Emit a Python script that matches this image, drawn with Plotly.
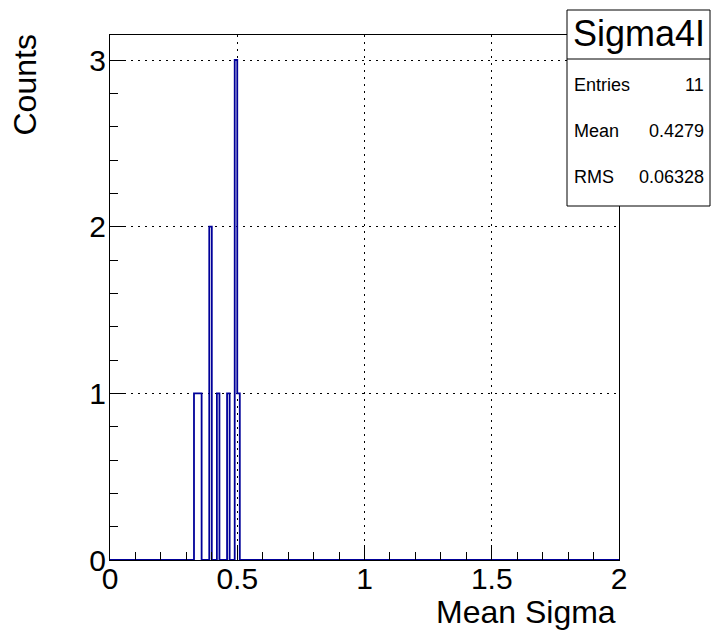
import numpy as np
import plotly.graph_objects as go

# ---- data ----
n_bins = 200
x_min, x_max = 0.0, 2.0
filled_bin_low = [0.33, 0.34, 0.35, 0.39, 0.42, 0.46, 0.49, 0.50]
filled_counts = [1, 1, 1, 2, 1, 1, 3, 1]
x_tickvals = [0, 0.5, 1, 1.5, 2]
x_ticktext = ["0", "0.5", "1", "1.5", "2"]
y_tickvals = [0, 1, 2, 3]
y_ticktext = ["0", "1", "2", "3"]
stats_title = "Sigma4I"
stats_names = ["Entries", "Mean", "RMS"]
stats_values = ["11", "0.4279", "0.06328"]

# build histogram arrays
width = (x_max - x_min) / n_bins
edges = np.round(x_min + np.arange(n_bins + 1) * width, 4)
counts = np.zeros(n_bins)
for lo, c in zip(filled_bin_low, filled_counts):
    counts[int(round((lo - x_min) / width))] = c
step_y = np.append(counts, 0)

FONT = "Liberation Sans, Arial, Helvetica, sans-serif"

# pixel -> paper helpers (plot area 110..619 x, 35..560 y)
L, R, T, B = 110, 619, 35, 560
def px(x):
    return (x - L) / (R - L)
def py(y):
    return (B - y) / (B - T)

fig = go.Figure()
fig.add_trace(go.Scatter(
    x=edges, y=step_y, mode="lines", line=dict(shape="hv", color="#000099", width=1.8),
    hoverinfo="skip", showlegend=False,
))

grid_dash = "2px,5px"
fig.update_xaxes(
    range=[x_min, x_max], tickvals=x_tickvals, ticktext=x_ticktext,
    ticks="inside", ticklen=15, tickwidth=1, tickcolor="black",
    minor=dict(dtick=0.1, ticks="inside", ticklen=8, tickcolor="black", showgrid=False),
    showgrid=True, gridcolor="black", gridwidth=1, griddash=grid_dash,
    zeroline=False, showline=True, linecolor="black", linewidth=1, mirror=True,
    tickfont=dict(family=FONT, size=30, color="black"), ticklabelstandoff=-8,
)
fig.update_yaxes(
    range=[0, 3.15], tickvals=y_tickvals, ticktext=y_ticktext,
    ticks="inside", ticklen=15, tickwidth=1, tickcolor="black",
    minor=dict(dtick=0.2, ticks="inside", ticklen=8, tickcolor="black", showgrid=False),
    showgrid=True, gridcolor="black", gridwidth=1, griddash=grid_dash,
    zeroline=False, showline=True, linecolor="black", linewidth=1, mirror=True,
    tickfont=dict(family=FONT, size=30, color="black"), ticklabelstandoff=-3,
)

annotations = [
    dict(text="Mean Sigma", x=px(618), y=py(612), xref="paper", yref="paper",
         xanchor="right", yanchor="middle", showarrow=False,
         font=dict(family=FONT, size=32, color="black")),
    dict(text="Counts", x=px(24), y=py(33), xref="paper", yref="paper",
         xanchor="center", yanchor="top", textangle=-90, showarrow=False,
         font=dict(family=FONT, size=32, color="black")),
    dict(text=stats_title, x=px(638.5), y=py(33), xref="paper", yref="paper",
         xanchor="center", yanchor="middle", showarrow=False,
         font=dict(family=FONT, size=36, color="black")),
]
row_y = [85, 131, 177]
for name, val, ry in zip(stats_names, stats_values, row_y):
    annotations.append(dict(text=name, x=px(572), y=py(ry), xref="paper", yref="paper",
                            xanchor="left", yanchor="middle", showarrow=False,
                            font=dict(family=FONT, size=18, color="black")))
    annotations.append(dict(text=val, x=px(706), y=py(ry), xref="paper", yref="paper",
                            xanchor="right", yanchor="middle", showarrow=False,
                            font=dict(family=FONT, size=18, color="black")))

shapes = [
    dict(type="rect", xref="paper", yref="paper", x0=px(567), x1=px(710), y0=py(206), y1=py(10),
         fillcolor="white", line=dict(color="black", width=1), layer="above"),
    dict(type="line", xref="paper", yref="paper", x0=px(567), x1=px(710), y0=py(59), y1=py(59),
         line=dict(color="black", width=1), layer="above"),
]

fig.update_layout(
    width=711, height=633,
    margin=dict(l=L, r=711 - R, t=T, b=633 - B, pad=0),
    paper_bgcolor="white", plot_bgcolor="white",
    showlegend=False, annotations=annotations, shapes=shapes,
)

fig.write_html("out.html", config={"displayModeBar": False},
               post_script="document.body.style.margin='0';document.body.style.padding='0';")
